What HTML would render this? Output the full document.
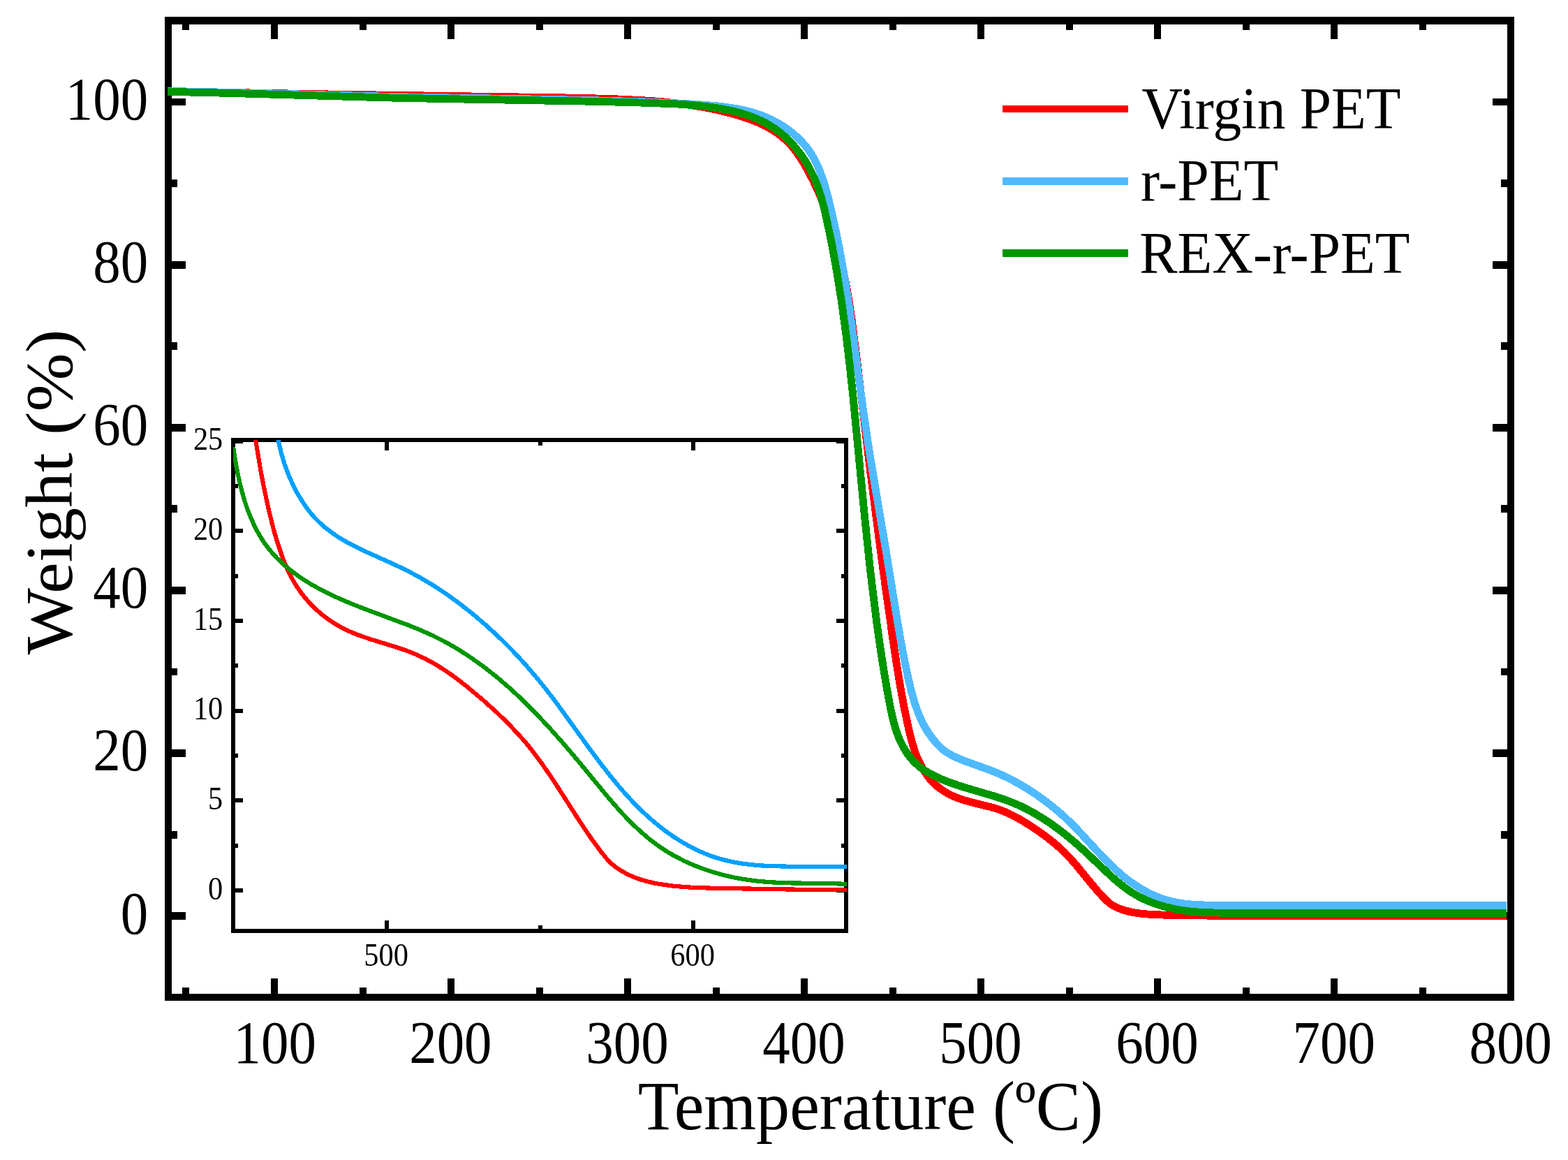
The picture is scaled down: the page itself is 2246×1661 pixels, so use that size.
<!DOCTYPE html>
<html lang="en"><head><meta charset="utf-8"><title>TGA curves</title>
<style>
html,body{margin:0;padding:0;background:#fff;}
body{width:2246px;height:1661px;overflow:hidden;}
svg{display:block;}
text{font-family:"Liberation Serif","Times New Roman",serif;fill:#000;}
</style></head>
<body>
<svg xmlns="http://www.w3.org/2000/svg" width="2246" height="1661" viewBox="0 0 2246 1661">
<rect x="0" y="0" width="2246" height="1661" fill="#fff"/>
<defs>
<clipPath id="cm"><rect x="240" y="30" width="1918" height="1398"/></clipPath>
<clipPath id="ci"><rect x="334" y="630" width="879" height="703"/></clipPath>
</defs>
<g shape-rendering="crispEdges">
<g fill="#000"><rect x="236" y="24" width="1933" height="10.8"/><rect x="236" y="1423" width="1933" height="10"/><rect x="236" y="24" width="10" height="1409"/><rect x="2159" y="24" width="10" height="1409"/></g>
<g fill="#000">
<rect x="261.4" y="33.8" width="10" height="9.1"/>
<rect x="261.4" y="1414.4" width="10" height="9.6"/>
<rect x="387.9" y="33.8" width="10" height="22.2"/>
<rect x="387.9" y="1401.0" width="10" height="23.0"/>
<rect x="514.5" y="33.8" width="10" height="9.1"/>
<rect x="514.5" y="1414.4" width="10" height="9.6"/>
<rect x="641.0" y="33.8" width="10" height="22.2"/>
<rect x="641.0" y="1401.0" width="10" height="23.0"/>
<rect x="767.5" y="33.8" width="10" height="9.1"/>
<rect x="767.5" y="1414.4" width="10" height="9.6"/>
<rect x="894.0" y="33.8" width="10" height="22.2"/>
<rect x="894.0" y="1401.0" width="10" height="23.0"/>
<rect x="1020.6" y="33.8" width="10" height="9.1"/>
<rect x="1020.6" y="1414.4" width="10" height="9.6"/>
<rect x="1147.1" y="33.8" width="10" height="22.2"/>
<rect x="1147.1" y="1401.0" width="10" height="23.0"/>
<rect x="1273.6" y="33.8" width="10" height="9.1"/>
<rect x="1273.6" y="1414.4" width="10" height="9.6"/>
<rect x="1400.1" y="33.8" width="10" height="22.2"/>
<rect x="1400.1" y="1401.0" width="10" height="23.0"/>
<rect x="1526.7" y="33.8" width="10" height="9.1"/>
<rect x="1526.7" y="1414.4" width="10" height="9.6"/>
<rect x="1653.2" y="33.8" width="10" height="22.2"/>
<rect x="1653.2" y="1401.0" width="10" height="23.0"/>
<rect x="1779.7" y="33.8" width="10" height="9.1"/>
<rect x="1779.7" y="1414.4" width="10" height="9.6"/>
<rect x="1906.2" y="33.8" width="10" height="22.2"/>
<rect x="1906.2" y="1401.0" width="10" height="23.0"/>
<rect x="2032.8" y="33.8" width="10" height="9.1"/>
<rect x="2032.8" y="1414.4" width="10" height="9.6"/>
<rect x="245.0" y="1306.3" width="21.0" height="10.8"/>
<rect x="2137.8" y="1306.3" width="22.2" height="10.8"/>
<rect x="245.0" y="1189.7" width="8.7" height="10.8"/>
<rect x="2150.1" y="1189.7" width="9.9" height="10.8"/>
<rect x="245.0" y="1073.1" width="21.0" height="10.8"/>
<rect x="2137.8" y="1073.1" width="22.2" height="10.8"/>
<rect x="245.0" y="956.6" width="8.7" height="10.8"/>
<rect x="2150.1" y="956.6" width="9.9" height="10.8"/>
<rect x="245.0" y="840.0" width="21.0" height="10.8"/>
<rect x="2137.8" y="840.0" width="22.2" height="10.8"/>
<rect x="245.0" y="723.4" width="8.7" height="10.8"/>
<rect x="2150.1" y="723.4" width="9.9" height="10.8"/>
<rect x="245.0" y="606.8" width="21.0" height="10.8"/>
<rect x="2137.8" y="606.8" width="22.2" height="10.8"/>
<rect x="245.0" y="490.2" width="8.7" height="10.8"/>
<rect x="2150.1" y="490.2" width="9.9" height="10.8"/>
<rect x="245.0" y="373.7" width="21.0" height="10.8"/>
<rect x="2137.8" y="373.7" width="22.2" height="10.8"/>
<rect x="245.0" y="257.1" width="8.7" height="10.8"/>
<rect x="2150.1" y="257.1" width="9.9" height="10.8"/>
<rect x="245.0" y="140.5" width="21.0" height="10.8"/>
<rect x="2137.8" y="140.5" width="22.2" height="10.8"/>
</g>
<g clip-path="url(#cm)" fill="none" stroke-width="10.9" stroke-linejoin="round" stroke-linecap="butt">
<path stroke="#ff0000" d="M240.2,130.8 L453.2,134.7 L826.6,140.2 L877.6,141.6 L921.0,143.7 L952.4,146.1 L980.7,149.3 L1005.9,153.2 L1029.5,157.9 L1041.1,160.8 L1052.8,164.0 L1064.4,167.5 L1074.4,171.0 L1084.2,174.8 L1092.4,178.5 L1100.4,182.6 L1106.8,186.3 L1114.2,191.2 L1121.1,196.6 L1127.6,202.5 L1133.7,209.0 L1139.3,215.9 L1145.4,224.4 L1151.9,234.7 L1157.9,245.3 L1164.8,258.8 L1171.3,272.4 L1177.3,286.2 L1183.4,301.6 L1188.9,317.1 L1193.9,332.8 L1198.5,348.6 L1202.7,364.5 L1207.7,386.4 L1212.1,408.4 L1216.2,432.1 L1220.2,458.8 L1227.3,514.0 L1247.0,677.6 L1259.3,773.0 L1268.9,844.4 L1279.0,915.5 L1285.0,955.3 L1290.4,987.8 L1295.7,1016.0 L1301.4,1042.8 L1305.8,1060.7 L1310.2,1075.2 L1312.8,1082.2 L1315.2,1087.8 L1318.2,1094.0 L1321.7,1100.4 L1325.0,1105.7 L1328.6,1111.1 L1332.3,1115.8 L1336.4,1120.3 L1342.0,1125.6 L1349.3,1131.1 L1357.4,1136.1 L1365.3,1140.0 L1372.9,1143.1 L1381.6,1146.0 L1391.4,1148.7 L1419.8,1155.7 L1427.9,1158.1 L1435.7,1160.9 L1445.5,1165.1 L1455.6,1170.2 L1466.1,1176.2 L1478.2,1183.9 L1492.0,1193.3 L1504.5,1202.7 L1515.2,1211.6 L1524.7,1220.4 L1532.0,1227.9 L1539.9,1236.8 L1563.8,1266.0 L1572.5,1276.2 L1580.5,1285.0 L1588.8,1293.0 L1594.9,1297.0 L1601.4,1300.2 L1609.1,1303.1 L1617.1,1305.3 L1625.3,1306.9 L1633.7,1308.1 L1643.1,1309.0 L1654.3,1309.7 L1673.5,1310.3 L1739.3,1311.2 L1779.9,1311.4 L2166.2,1311.4"/>
<path stroke="#50baff" d="M240.2,130.4 L327.2,132.3 L570.1,138.7 L780.1,142.3 L849.1,143.7 L922.5,145.9 L976.4,148.2 L1004.9,150.0 L1028.9,152.0 L1046.8,154.3 L1063.0,157.2 L1077.6,160.8 L1084.7,163.0 L1091.8,165.5 L1098.8,168.4 L1105.6,171.6 L1117.5,178.1 L1125.2,183.0 L1131.2,187.4 L1137.1,192.1 L1142.6,197.1 L1147.9,202.3 L1152.8,207.8 L1157.4,213.6 L1161.5,219.7 L1165.3,225.9 L1168.8,232.4 L1171.9,239.1 L1175.3,247.3 L1180.7,262.9 L1186.4,283.3 L1192.7,309.9 L1198.8,337.9 L1204.5,367.5 L1210.2,400.0 L1214.6,428.1 L1219.0,457.7 L1236.2,585.3 L1244.5,641.7 L1251.8,686.3 L1269.3,790.0 L1285.3,888.7 L1290.7,919.7 L1296.1,947.9 L1301.4,973.2 L1305.7,991.0 L1310.3,1007.0 L1315.3,1021.1 L1320.7,1033.3 L1324.1,1039.8 L1327.0,1044.9 L1331.0,1051.0 L1336.3,1058.3 L1343.0,1066.2 L1348.1,1071.2 L1353.1,1075.2 L1359.0,1079.1 L1364.6,1082.2 L1371.9,1085.6 L1380.3,1089.1 L1418.5,1102.9 L1427.8,1106.6 L1436.8,1110.6 L1448.5,1116.3 L1459.9,1122.4 L1471.5,1129.4 L1482.8,1136.7 L1495.1,1145.4 L1506.2,1153.9 L1516.9,1162.8 L1527.1,1171.9 L1535.2,1179.7 L1544.1,1188.8 L1574.2,1221.4 L1586.3,1233.9 L1598.9,1246.0 L1611.1,1256.5 L1618.5,1262.1 L1626.2,1267.5 L1634.2,1272.5 L1642.0,1276.9 L1650.0,1280.9 L1657.7,1284.2 L1665.5,1287.1 L1673.5,1289.6 L1685.9,1292.4 L1698.6,1294.4 L1713.2,1295.6 L1729.7,1296.1 L1773.9,1296.2 L1786.1,1296.5 L2166.2,1296.5"/>
<path stroke="#009600" d="M240.2,131.3 L324.2,133.3 L558.1,140.0 L633.1,141.5 L852.0,145.3 L927.0,147.3 L970.4,149.0 L992.8,150.6 L1013.8,152.8 L1033.2,155.7 L1049.5,158.9 L1064.0,162.8 L1078.2,167.6 L1090.4,172.9 L1097.0,176.3 L1102.2,179.2 L1109.6,184.1 L1116.8,189.4 L1123.7,195.2 L1131.3,202.5 L1137.5,209.1 L1143.2,216.1 L1148.7,223.4 L1154.5,232.2 L1159.0,240.0 L1163.1,248.0 L1166.8,256.2 L1170.7,265.9 L1174.1,275.7 L1177.1,285.7 L1180.2,297.3 L1183.3,310.4 L1191.3,348.6 L1198.8,390.0 L1205.6,433.0 L1211.9,479.1 L1216.7,519.4 L1221.7,565.6 L1238.4,738.7 L1246.2,813.0 L1250.8,851.7 L1255.5,889.0 L1260.3,923.3 L1265.6,957.7 L1271.2,990.6 L1275.9,1016.0 L1279.6,1032.2 L1283.3,1045.0 L1287.8,1057.3 L1290.9,1063.9 L1293.5,1069.0 L1297.4,1075.6 L1300.8,1080.6 L1304.5,1085.4 L1308.6,1090.1 L1315.9,1097.0 L1319.6,1099.9 L1324.1,1103.0 L1335.1,1109.3 L1348.4,1115.6 L1360.1,1120.3 L1373.7,1125.0 L1387.5,1129.3 L1423.1,1139.7 L1442.1,1146.1 L1452.1,1150.0 L1462.6,1154.6 L1472.8,1159.7 L1482.8,1165.2 L1494.5,1172.3 L1506.4,1180.2 L1518.4,1189.0 L1530.5,1198.6 L1541.6,1208.0 L1553.5,1218.6 L1585.7,1249.1 L1594.8,1257.5 L1604.8,1266.0 L1614.7,1273.5 L1621.2,1277.9 L1627.3,1281.6 L1633.6,1285.1 L1640.9,1288.6 L1647.7,1291.4 L1655.5,1294.3 L1663.5,1296.9 L1671.6,1299.2 L1686.7,1302.5 L1702.9,1304.9 L1719.3,1306.3 L1739.2,1307.0 L1771.2,1307.3 L1786.1,1307.7 L2166.2,1307.7"/>
</g>
<rect x="331" y="627" width="884" height="709" fill="#fff"/>
<g fill="#000"><rect x="331" y="627" width="884" height="6"/><rect x="331" y="1330" width="884" height="6"/><rect x="331" y="627" width="6" height="709"/><rect x="1209" y="627" width="6" height="709"/></g>
<g fill="#000">
<rect x="551.0" y="632.0" width="6" height="13.0"/>
<rect x="551.0" y="1318.0" width="6" height="13.0"/>
<rect x="770.5" y="632.0" width="6" height="5.6"/>
<rect x="770.5" y="1325.4" width="6" height="5.6"/>
<rect x="990.0" y="632.0" width="6" height="13.0"/>
<rect x="990.0" y="1318.0" width="6" height="13.0"/>
<rect x="336.0" y="1272.0" width="11.9" height="6"/>
<rect x="1198.1" y="1272.0" width="11.9" height="6"/>
<rect x="336.0" y="1207.7" width="5.0" height="6"/>
<rect x="1205.0" y="1207.7" width="5.0" height="6"/>
<rect x="336.0" y="1143.3" width="11.9" height="6"/>
<rect x="1198.1" y="1143.3" width="11.9" height="6"/>
<rect x="336.0" y="1079.0" width="5.0" height="6"/>
<rect x="1205.0" y="1079.0" width="5.0" height="6"/>
<rect x="336.0" y="1014.7" width="11.9" height="6"/>
<rect x="1198.1" y="1014.7" width="11.9" height="6"/>
<rect x="336.0" y="950.4" width="5.0" height="6"/>
<rect x="1205.0" y="950.4" width="5.0" height="6"/>
<rect x="336.0" y="886.0" width="11.9" height="6"/>
<rect x="1198.1" y="886.0" width="11.9" height="6"/>
<rect x="336.0" y="821.7" width="5.0" height="6"/>
<rect x="1205.0" y="821.7" width="5.0" height="6"/>
<rect x="336.0" y="757.4" width="11.9" height="6"/>
<rect x="1198.1" y="757.4" width="11.9" height="6"/>
<rect x="336.0" y="693.1" width="5.0" height="6"/>
<rect x="1205.0" y="693.1" width="5.0" height="6"/>
<rect x="336.0" y="628.8" width="11.9" height="6"/>
<rect x="1198.1" y="628.8" width="11.9" height="6"/>
</g>
<g clip-path="url(#ci)" fill="none" stroke-width="6.2" stroke-linejoin="round" stroke-linecap="butt">
<path stroke="#ff0000" d="M366.0,629.5 L373.4,673.9 L377.3,694.4 L381.3,713.4 L385.5,732.4 L389.8,749.9 L393.7,764.5 L398.1,779.0 L402.4,791.9 L406.6,803.3 L411.3,814.5 L415.9,824.0 L421.0,833.2 L425.7,840.8 L431.7,849.3 L438.2,857.4 L443.1,862.9 L448.2,868.3 L453.5,873.3 L459.1,878.2 L464.8,882.8 L472.0,888.0 L478.2,892.1 L484.5,895.9 L491.0,899.5 L497.7,902.8 L504.5,905.8 L512.8,909.1 L529.9,915.1 L564.7,925.8 L580.5,931.0 L595.9,937.0 L609.4,943.4 L618.5,948.3 L627.5,953.6 L637.6,960.0 L647.4,966.8 L657.0,973.9 L667.7,982.2 L690.8,1001.5 L711.0,1019.6 L729.3,1037.4 L745.6,1054.9 L753.5,1063.9 L761.0,1073.2 L773.7,1089.9 L787.4,1109.6 L799.8,1128.4 L831.4,1177.7 L840.6,1191.4 L849.1,1203.7 L860.7,1219.3 L872.2,1233.6 L880.5,1240.5 L887.9,1245.7 L896.8,1250.8 L906.1,1255.2 L917.1,1259.3 L928.4,1262.5 L939.9,1265.1 L953.1,1267.2 L966.5,1268.9 L990.5,1270.7 L1019.3,1271.7 L1143.8,1273.7 L1214.6,1274.2"/>
<path stroke="#00a0ff" d="M398.4,629.5 L402.4,647.0 L407.5,664.4 L413.3,680.1 L420.1,695.3 L424.3,703.4 L428.0,710.0 L436.0,722.6 L440.4,728.7 L444.9,734.5 L449.7,740.1 L454.8,745.4 L463.3,753.4 L473.6,761.5 L484.6,769.0 L496.0,775.8 L507.9,782.1 L520.0,788.1 L564.4,808.1 L580.9,815.9 L599.5,825.7 L618.9,837.1 L638.9,850.2 L658.2,864.2 L678.1,879.9 L697.5,896.5 L717.3,914.9 L735.4,933.0 L752.6,951.6 L770.0,971.9 L783.0,988.1 L797.5,1007.1 L843.4,1070.6 L859.6,1092.4 L875.4,1112.6 L890.7,1131.0 L905.8,1147.5 L921.6,1163.3 L937.1,1177.2 L952.3,1189.3 L964.5,1197.9 L976.0,1205.2 L987.7,1211.9 L999.8,1218.0 L1012.3,1223.3 L1023.5,1227.4 L1036.4,1231.2 L1049.5,1234.2 L1061.3,1236.3 L1074.7,1238.0 L1088.1,1239.3 L1101.6,1240.0 L1125.7,1240.6 L1193.4,1240.6 L1214.6,1241.3"/>
<path stroke="#009600" d="M334.1,640.2 L336.5,656.0 L338.8,669.3 L341.5,682.6 L344.6,696.1 L347.7,707.9 L351.2,719.7 L355.2,731.3 L359.2,741.2 L363.5,750.8 L368.2,760.2 L373.4,769.2 L378.2,776.7 L383.4,783.8 L389.9,791.7 L395.8,798.2 L403.1,805.4 L408.6,810.3 L415.4,815.9 L422.4,821.3 L429.7,826.5 L437.2,831.4 L446.1,836.9 L463.3,846.3 L481.0,854.9 L501.9,863.9 L524.4,872.7 L584.9,895.2 L602.9,902.5 L619.2,909.8 L637.8,919.2 L656.0,929.6 L674.9,941.9 L693.2,955.0 L711.0,969.0 L729.3,984.6 L748.0,1001.9 L766.0,1019.8 L786.4,1041.5 L807.2,1064.9 L828.5,1090.0 L869.8,1140.2 L880.7,1152.8 L890.7,1164.1 L904.3,1178.2 L917.3,1190.5 L929.7,1201.1 L942.7,1211.0 L953.8,1218.4 L966.6,1225.9 L979.8,1232.7 L993.5,1238.8 L1007.4,1244.2 L1021.7,1248.9 L1036.2,1253.0 L1052.4,1256.7 L1065.7,1259.1 L1079.1,1261.0 L1092.6,1262.4 L1107.6,1263.5 L1131.6,1264.4 L1188.7,1265.1 L1214.6,1265.9"/>
</g>
<rect x="1436" y="151" width="180" height="10" fill="#ff0000"/>
<rect x="1436" y="254.2" width="180" height="10.6" fill="#50baff"/>
<rect x="1436" y="357" width="180" height="10.9" fill="#009600"/>
</g>
<g>
<text id="xt100" transform="translate(393.83,1521.90) scale(0.9080,1)" font-size="87.0" text-anchor="middle">100</text>
<text id="xt200" transform="translate(645.38,1521.90) scale(0.9080,1)" font-size="87.0" text-anchor="middle">200</text>
<text id="xt300" transform="translate(898.44,1521.90) scale(0.9080,1)" font-size="87.0" text-anchor="middle">300</text>
<text id="xt400" transform="translate(1151.49,1521.90) scale(0.9080,1)" font-size="87.0" text-anchor="middle">400</text>
<text id="xt500" transform="translate(1404.54,1521.90) scale(0.9080,1)" font-size="87.0" text-anchor="middle">500</text>
<text id="xt600" transform="translate(1657.59,1521.90) scale(0.9080,1)" font-size="87.0" text-anchor="middle">600</text>
<text id="xt700" transform="translate(1910.65,1521.90) scale(0.9080,1)" font-size="87.0" text-anchor="middle">700</text>
<text id="xt800" transform="translate(2163.70,1521.90) scale(0.9080,1)" font-size="87.0" text-anchor="middle">800</text>
<text id="yt0" transform="translate(212.30,1336.60) scale(0.9080,1)" font-size="87.0" text-anchor="end">0</text>
<text id="yt20" transform="translate(212.30,1103.44) scale(0.9080,1)" font-size="87.0" text-anchor="end">20</text>
<text id="yt40" transform="translate(212.30,870.28) scale(0.9080,1)" font-size="87.0" text-anchor="end">40</text>
<text id="yt60" transform="translate(212.30,637.12) scale(0.9080,1)" font-size="87.0" text-anchor="end">60</text>
<text id="yt80" transform="translate(212.30,403.96) scale(0.9080,1)" font-size="87.0" text-anchor="end">80</text>
<text id="yt100" transform="translate(212.30,170.80) scale(0.9080,1)" font-size="87.0" text-anchor="end">100</text>
<text id="ixt500" transform="translate(553.10,1383.40) scale(0.9100,1)" font-size="46.6" text-anchor="middle">500</text>
<text id="ixt600" transform="translate(992.10,1383.40) scale(0.9100,1)" font-size="46.6" text-anchor="middle">600</text>
<text id="iyt0" transform="translate(319.30,1287.60) scale(0.9100,1)" font-size="46.6" text-anchor="end">0</text>
<text id="iyt5" transform="translate(319.30,1158.95) scale(0.9100,1)" font-size="46.6" text-anchor="end">5</text>
<text id="iyt10" transform="translate(319.30,1030.30) scale(0.9100,1)" font-size="46.6" text-anchor="end">10</text>
<text id="iyt15" transform="translate(319.30,901.65) scale(0.9100,1)" font-size="46.6" text-anchor="end">15</text>
<text id="iyt20" transform="translate(319.30,773.00) scale(0.9100,1)" font-size="46.6" text-anchor="end">20</text>
<text id="iyt25" transform="translate(319.30,644.35) scale(0.9100,1)" font-size="46.6" text-anchor="end">25</text>
<text id="xtitle" transform="translate(1246.80,1616.90) scale(0.9615,1)" font-size="100" text-anchor="middle">Temperature (ºC)</text>
<text id="ytitle" transform="translate(103.40,704.50) rotate(-90) scale(1.0570,1)" font-size="95.5" text-anchor="middle">Weight (%)</text>
<text id="lg1" transform="translate(1635.30,184.05) scale(0.9655,1)" font-size="84.3" text-anchor="start">Virgin PET</text>
<text id="lg2" transform="translate(1633.90,286.85) scale(0.9655,1)" font-size="84.3" text-anchor="start">r-PET</text>
<text id="lg3" transform="translate(1632.30,390.80) scale(0.9655,1)" font-size="84.3" text-anchor="start">REX-r-PET</text>
</g>
</svg>
</body></html>
